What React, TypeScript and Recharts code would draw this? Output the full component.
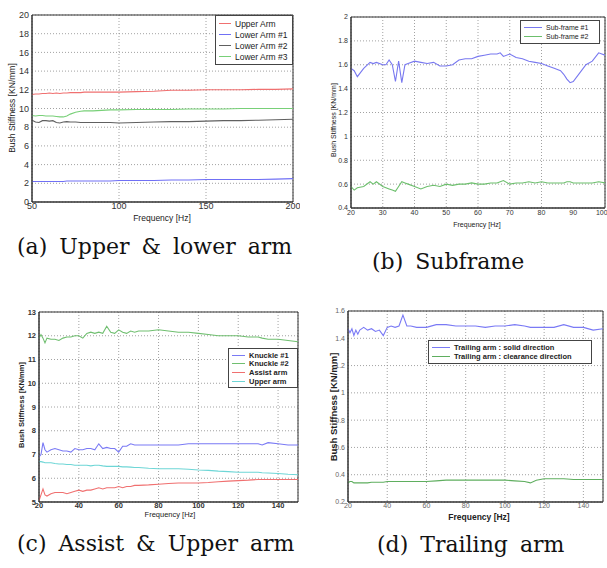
import React from "react";
import { LineChart, Line, XAxis, YAxis, CartesianGrid, ReferenceArea, Legend } from "recharts";

// (a) Upper & lower arm
const freqA = [50, 52, 54, 56, 58, 60, 62, 64, 66, 68, 70, 72, 75, 78, 80, 85, 90, 95, 100, 110, 120, 130, 140, 150, 160, 170, 180, 190, 200];
const upperArmA = [11.5, 11.55, 11.55, 11.6, 11.6, 11.65, 11.6, 11.65, 11.6, 11.65, 11.65, 11.7, 11.7, 11.7, 11.75, 11.75, 11.75, 11.75, 11.75, 11.8, 11.85, 11.95, 11.95, 12.0, 12.0, 12.0, 12.05, 12.05, 12.1];
const lowerArm1 = [2.2, 2.2, 2.2, 2.2, 2.2, 2.2, 2.2, 2.2, 2.2, 2.2, 2.25, 2.25, 2.25, 2.25, 2.25, 2.25, 2.25, 2.25, 2.3, 2.3, 2.3, 2.35, 2.35, 2.4, 2.4, 2.4, 2.4, 2.45, 2.5];
const lowerArm2 = [8.75, 8.55, 8.5, 8.7, 8.7, 8.65, 8.7, 8.5, 8.45, 8.55, 8.6, 8.55, 8.55, 8.5, 8.5, 8.5, 8.5, 8.5, 8.45, 8.5, 8.55, 8.6, 8.6, 8.65, 8.7, 8.7, 8.75, 8.8, 8.85];
const lowerArm3 = [9.25, 9.2, 9.25, 9.25, 9.2, 9.2, 9.2, 9.15, 9.1, 9.1, 9.2, 9.4, 9.6, 9.7, 9.75, 9.75, 9.8, 9.85, 9.85, 9.9, 9.9, 9.9, 9.95, 9.95, 9.95, 10.0, 10.0, 10.0, 10.0];
const xTicksA = [50, 100, 150, 200];
const yTicksA = [0, 2, 4, 6, 8, 10, 12, 14, 16, 18, 20];

// (b) Subframe
const freqB = [20, 21, 22, 24, 26, 27, 28, 30, 31, 32, 33, 34, 35, 36, 37, 38, 40, 42, 44, 46, 48, 50, 52, 54, 56, 58, 60, 62, 64, 66, 67, 68, 70, 72, 74, 76, 78, 80, 82, 84, 86, 87, 88, 89, 90, 92, 94, 96, 98, 100];
const subFrame1 = [1.57, 1.55, 1.5, 1.57, 1.62, 1.61, 1.62, 1.6, 1.6, 1.64, 1.6, 1.46, 1.63, 1.45, 1.6, 1.61, 1.63, 1.62, 1.61, 1.62, 1.59, 1.59, 1.6, 1.64, 1.65, 1.65, 1.67, 1.68, 1.69, 1.69, 1.7, 1.67, 1.69, 1.66, 1.65, 1.63, 1.62, 1.61, 1.59, 1.57, 1.55, 1.52, 1.48, 1.45, 1.46, 1.53, 1.6, 1.63, 1.7, 1.68];
const subFrame2 = [0.58, 0.55, 0.57, 0.58, 0.62, 0.6, 0.62, 0.58, 0.57, 0.56, 0.55, 0.54, 0.58, 0.62, 0.61, 0.6, 0.58, 0.56, 0.58, 0.59, 0.58, 0.6, 0.59, 0.6, 0.6, 0.61, 0.6, 0.6, 0.61, 0.61, 0.62, 0.63, 0.6, 0.61, 0.61, 0.62, 0.61, 0.62, 0.61, 0.61, 0.61, 0.61, 0.62, 0.62, 0.61, 0.61, 0.61, 0.61, 0.62, 0.61];
const xTicksB = [20, 30, 40, 50, 60, 70, 80, 90, 100];
const yTicksB = [0.4, 0.6, 0.8, 1, 1.2, 1.4, 1.6, 1.8, 2];

// (c) Assist & Upper arm
const freqC = [20, 21, 22, 23, 24, 26, 28, 30, 32, 34, 36, 38, 40, 42, 44, 46, 48, 50, 52, 54, 56, 58, 60, 62, 64, 66, 68, 70, 75, 80, 85, 90, 95, 100, 105, 110, 115, 120, 125, 130, 132, 135, 140, 145, 150];
const knuckle1 = [6.9, 7.0, 7.5, 7.2, 7.1, 7.2, 7.25, 7.2, 7.15, 7.15, 7.1, 7.25, 7.2, 7.2, 7.25, 7.25, 7.2, 7.45, 7.25, 7.3, 7.25, 7.25, 7.1, 7.35, 7.35, 7.45, 7.4, 7.4, 7.4, 7.4, 7.4, 7.4, 7.45, 7.45, 7.45, 7.45, 7.45, 7.45, 7.45, 7.45, 7.4, 7.5, 7.45, 7.4, 7.4];
const knuckle2 = [11.9, 12.05, 11.9, 11.7, 11.9, 11.85, 11.85, 11.8, 11.9, 11.95, 11.95, 12.0, 12.0, 11.9, 12.1, 12.15, 12.1, 12.15, 12.1, 12.4, 12.15, 12.1, 12.25, 12.15, 12.1, 12.2, 12.15, 12.2, 12.2, 12.25, 12.2, 12.15, 12.15, 12.1, 12.05, 12.0, 12.0, 12.0, 11.95, 11.95, 11.9, 11.85, 11.85, 11.8, 11.75];
const assistArm = [5.05, 5.3, 5.55, 5.3, 5.25, 5.35, 5.4, 5.4, 5.4, 5.35, 5.4, 5.45, 5.5, 5.45, 5.5, 5.5, 5.55, 5.6, 5.55, 5.6, 5.6, 5.6, 5.65, 5.6, 5.65, 5.65, 5.7, 5.7, 5.72, 5.75, 5.78, 5.8, 5.8, 5.8, 5.82, 5.85, 5.88, 5.9, 5.92, 5.95, 5.95, 5.95, 5.95, 5.95, 5.95];
const upperArmC = [6.7, 6.7, 6.68, 6.65, 6.65, 6.65, 6.62, 6.6, 6.6, 6.58, 6.58, 6.55, 6.55, 6.55, 6.55, 6.52, 6.55, 6.55, 6.52, 6.5, 6.5, 6.5, 6.5, 6.48, 6.48, 6.47, 6.45, 6.45, 6.42, 6.4, 6.4, 6.4, 6.38, 6.35, 6.33, 6.3, 6.28, 6.25, 6.25, 6.25, 6.23, 6.22, 6.2, 6.17, 6.15];
const xTicksC = [20, 40, 60, 80, 100, 120, 140];
const yTicksC = [5, 6, 7, 8, 9, 10, 11, 12, 13];

// (d) Trailing arm
const freqD = [20, 21, 22, 23, 24, 25, 26, 28, 30, 32, 34, 36, 38, 40, 42, 44, 46, 48, 50, 52, 55, 60, 65, 70, 75, 80, 85, 90, 95, 100, 105, 110, 113, 116, 120, 125, 130, 135, 140, 145, 150];
const solidDir = [1.47, 1.44, 1.47, 1.42, 1.46, 1.43, 1.46, 1.48, 1.46, 1.47, 1.45, 1.46, 1.42, 1.48, 1.49, 1.48, 1.49, 1.57, 1.49, 1.49, 1.48, 1.48, 1.5, 1.5, 1.49, 1.49, 1.49, 1.48, 1.49, 1.49, 1.5, 1.49, 1.48, 1.48, 1.48, 1.48, 1.5, 1.48, 1.48, 1.46, 1.47];
const clearanceDir = [0.34, 0.35, 0.35, 0.34, 0.34, 0.34, 0.34, 0.34, 0.34, 0.345, 0.345, 0.345, 0.345, 0.35, 0.35, 0.35, 0.35, 0.35, 0.35, 0.35, 0.35, 0.35, 0.355, 0.36, 0.36, 0.36, 0.36, 0.36, 0.36, 0.36, 0.355, 0.35, 0.34, 0.36, 0.37, 0.37, 0.37, 0.365, 0.365, 0.365, 0.365];
const xTicksD = [20, 40, 60, 80, 100, 120, 140];
const yTicksD = [0.2, 0.4, 0.6, 0.8, 1, 1.2, 1.4, 1.6];

const zip = (freq: number[], series: Record<string, number[]>) =>
  freq.map((f, i) => {
    const row: any = { f };
    Object.keys(series).forEach(k => { row[k] = series[k][i]; });
    return row;
  });

const SANS = "'Liberation Sans', Arial, sans-serif";
const SERIF = "'DejaVu Serif', serif";

type SeriesDef = { key: string; name: string; color: string };

type PanelProps = {
  left: number; top: number; width: number; height: number;
  margin: { top: number; right: number; bottom: number; left: number };
  yWidth: number;
  data: any[];
  series: SeriesDef[];
  xDomain: [number, number]; yDomain: [number, number];
  xTicks: number[]; yTicks: number[];
  tickSize: number; tickFill: string; tickWeight?: number;
  xTickMargin: number;
  legend: { left: number; top: number; width: number; fontSize: number; bold?: boolean; lineW: number; rowH: number };
};

function MatlabLegend({ payload, cfg, order }: any) {
  // keep the plotting order, not the alphabetical one
  const items = [...(payload || [])].sort((a: any, b: any) => order.indexOf(a.dataKey) - order.indexOf(b.dataKey));
  return (
    <div style={{ border: "1px solid #444", background: "white", padding: "2px 4px 2px 3px", fontFamily: SANS, fontSize: cfg.fontSize, fontWeight: cfg.bold ? 700 : 400, color: "#222", boxSizing: "border-box", width: cfg.width }}>
      {items.map((p: any) => (
        <div key={p.value} style={{ display: "flex", alignItems: "center", height: cfg.rowH, whiteSpace: "nowrap" }}>
          <div style={{ width: cfg.lineW, borderTop: `1px solid ${p.color}`, marginRight: 4, flexShrink: 0 }} />
          <span>{p.value}</span>
        </div>
      ))}
    </div>
  );
}

function Panel(p: PanelProps) {
  const tick = { fontSize: p.tickSize, fill: p.tickFill, fontFamily: SANS, fontWeight: p.tickWeight || 400 };
  const order = p.series.map(s => s.key);
  return (
    <div style={{ position: "absolute", left: p.left, top: p.top }}>
      <LineChart width={p.width} height={p.height} data={p.data} margin={p.margin}>
        <CartesianGrid stroke="#8a8a8a" strokeDasharray="1 2" strokeWidth={0.8} />
        <XAxis dataKey="f" type="number" domain={p.xDomain} ticks={p.xTicks} allowDataOverflow
          height={14} tickSize={0} tickMargin={p.xTickMargin} tick={tick} axisLine={{ stroke: "#333" }} tickLine={false} />
        <YAxis type="number" domain={p.yDomain} ticks={p.yTicks} allowDataOverflow interval={0}
          width={p.yWidth} tickSize={0} tickMargin={3} tick={tick} axisLine={{ stroke: "#333" }} tickLine={false}
          tickFormatter={(v: number) => String(v)} />
        {p.series.map(s => (
          <Line key={s.key} dataKey={s.key} name={s.name} type="linear" stroke={s.color} strokeWidth={1.1}
            dot={false} isAnimationActive={false} />
        ))}
        <ReferenceArea x1={p.xDomain[0]} x2={p.xDomain[1]} y1={p.yDomain[0]} y2={p.yDomain[1]}
          fill="none" stroke="#333" strokeWidth={1} ifOverflow="visible" />
        <Legend layout="horizontal" align="center" verticalAlign="middle"
          wrapperStyle={{ left: p.legend.left, top: p.legend.top, width: p.legend.width, height: "auto" }}
          content={(props: any) => <MatlabLegend payload={props.payload} cfg={p.legend} order={order} />} />
      </LineChart>
    </div>
  );
}

function Label({ x, y, text, size, bold, rotate, family, color }: any) {
  return (
    <div style={{
      position: "absolute", left: x, top: y, whiteSpace: "pre", lineHeight: 1,
      transform: `translate(-50%, -50%)${rotate ? " rotate(-90deg)" : ""}`,
      fontFamily: family || SANS, fontSize: size, fontWeight: bold ? 700 : 400, color: color || "#222",
    }}>{text}</div>
  );
}

function Caption({ x, y, text }: any) {
  return (
    <div style={{ position: "absolute", left: x, top: y, whiteSpace: "pre", lineHeight: 1, fontFamily: SERIF, fontSize: 22, color: "#111", wordSpacing: 5 }}>
      {text}
    </div>
  );
}

const dataA = zip(freqA, { ua: upperArmA, l1: lowerArm1, l2: lowerArm2, l3: lowerArm3 });
const dataB = zip(freqB, { s1: subFrame1, s2: subFrame2 });
const dataC = zip(freqC, { k1: knuckle1, k2: knuckle2, as: assistArm, up: upperArmC });
const dataD = zip(freqD, { so: solidDir, cl: clearanceDir });

export default function App() {
  return (
    <div style={{ position: "absolute", left: 0, top: 0, width: 607, height: 568, background: "white", overflow: "hidden" }}>
      <Panel left={0} top={0} width={300} height={230} margin={{ top: 15, right: 7, bottom: 14, left: 0 }} yWidth={32}
        data={dataA} xDomain={[50, 200]} yDomain={[0, 20]} xTicks={xTicksA} yTicks={yTicksA}
        tickSize={9} tickFill="#333" xTickMargin={1}
        series={[
          { key: "ua", name: "Upper Arm", color: "#f07070" },
          { key: "l1", name: "Lower Arm #1", color: "#7070f5" },
          { key: "l2", name: "Lower Arm #2", color: "#606060" },
          { key: "l3", name: "Lower Arm #3", color: "#78d078" },
        ]}
        legend={{ left: 215, top: 15, width: 78, fontSize: 8.5, lineW: 12, rowH: 11 }} />
      <Panel left={300} top={0} width={307} height={230} margin={{ top: 17, right: 2, bottom: 8, left: 0 }} yWidth={51}
        data={dataB} xDomain={[20, 100]} yDomain={[0.4, 2]} xTicks={xTicksB} yTicks={yTicksB}
        tickSize={7} tickFill="#333" xTickMargin={2}
        series={[
          { key: "s1", name: "Sub-frame #1", color: "#7878f0" },
          { key: "s2", name: "Sub-frame #2", color: "#6cbf6c" },
        ]}
        legend={{ left: 220, top: 20, width: 80, fontSize: 7, lineW: 18, rowH: 9 }} />
      <Panel left={0} top={280} width={300} height={240} margin={{ top: 32, right: 2, bottom: 4, left: 0 }} yWidth={39}
        data={dataC} xDomain={[20, 150]} yDomain={[5, 13]} xTicks={xTicksC} yTicks={yTicksC}
        tickSize={7.5} tickFill="#333" tickWeight={700} xTickMargin={1}
        series={[
          { key: "k1", name: "Knuckle #1", color: "#7a7af5" },
          { key: "k2", name: "Knuckle #2", color: "#70bf70" },
          { key: "as", name: "Assist arm", color: "#f07070" },
          { key: "up", name: "Upper arm", color: "#6ed6d6" },
        ]}
        legend={{ left: 228, top: 68, width: 70, fontSize: 7.5, bold: true, lineW: 13, rowH: 8.6 }} />
      <Panel left={300} top={280} width={307} height={240} margin={{ top: 31, right: 4, bottom: 4, left: 0 }} yWidth={48}
        data={dataD} xDomain={[20, 150]} yDomain={[0.2, 1.6]} xTicks={xTicksD} yTicks={yTicksD}
        tickSize={7} tickFill="#666" xTickMargin={1}
        series={[
          { key: "so", name: "Trailing arm : solid direction", color: "#7a7af5" },
          { key: "cl", name: "Trailing arm : clearance direction", color: "#5fae5f" },
        ]}
        legend={{ left: 128, top: 60, width: 164, fontSize: 7.5, bold: true, lineW: 18, rowH: 9 }} />

      <Label x={162} y={218} text="Frequency [Hz]" size={8.5} />
      <Label x={12} y={108} text="Bush Stiffness [KN/mm]" size={8.5} rotate />
      <Label x={477} y={224} text="Frequency [Hz]" size={7} />
      <Label x={333} y={120} text="Bush Stiffness [KN/mm]" size={7} rotate />
      <Label x={170} y={515} text="Frequency [Hz]" size={7.5} />
      <Label x={22} y={405} text="Bush Stiffness [KN/mm]" size={7.5} bold rotate />
      <Label x={479} y={517} text="Frequency [Hz]" size={8.5} bold />
      <Label x={334} y={407} text="Bush Stiffness [KN/mm]" size={9.5} bold rotate />

      <Caption x={17} y={236} text="(a) Upper & lower arm" />
      <Caption x={372} y={251} text="(b) Subframe" />
      <Caption x={17} y={533} text="(c) Assist & Upper arm" />
      <Caption x={377} y={534} text="(d) Trailing arm" />
    </div>
  );
}
